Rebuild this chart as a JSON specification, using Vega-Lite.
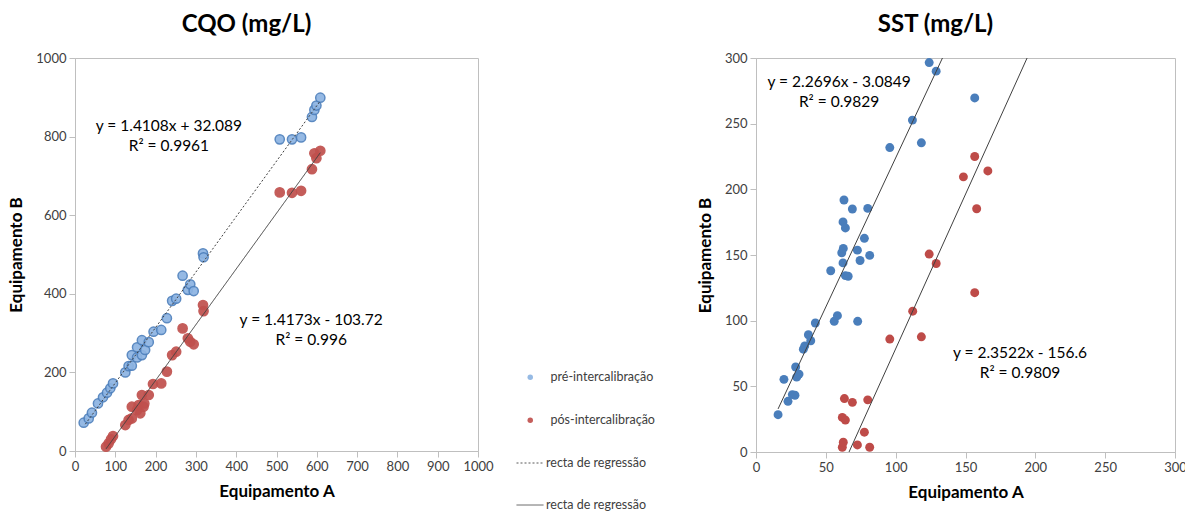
{
  "$schema": "https://vega.github.io/schema/vega-lite/v6.json",
  "background": "white",
  "padding": {"left": 7, "top": 12, "right": 5, "bottom": 0},
  "config": {
    "view": {"stroke": "#BFBFBF", "strokeWidth": 1},
    "axis": {"grid": false, "domainColor": "#BFBFBF", "tickColor": "#BFBFBF", "tickSize": 6, "labelFont": "Lato", "labelFontSize": 13, "labelColor": "#404040", "labelPadding": 3, "labelOverlap": false, "labelFlush": false, "format": "d", "titleFont": "Lato", "titleFontSize": 17, "titleFontWeight": "bold", "titleColor": "#000000"},
    "title": {"font": "Lato", "fontSize": 24, "fontWeight": "bold", "color": "#000000", "frame": "group", "anchor": "middle"},
    "legend": {"labelFont": "Lato", "labelFontSize": 12.5, "labelColor": "#404040", "padding": 0}
  },
  "datasets": {
    "cqo_pts": [
      {"A": 21.6, "B": 72, "serie": "pré-intercalibração"},
      {"A": 34, "B": 83, "serie": "pré-intercalibração"},
      {"A": 42, "B": 97.5, "serie": "pré-intercalibração"},
      {"A": 57, "B": 121, "serie": "pré-intercalibração"},
      {"A": 69.5, "B": 136.6, "serie": "pré-intercalibração"},
      {"A": 79.4, "B": 148.3, "serie": "pré-intercalibração"},
      {"A": 87.6, "B": 159.5, "serie": "pré-intercalibração"},
      {"A": 94.3, "B": 172, "serie": "pré-intercalibração"},
      {"A": 124.8, "B": 200, "serie": "pré-intercalibração"},
      {"A": 133, "B": 216, "serie": "pré-intercalibração"},
      {"A": 141, "B": 217, "serie": "pré-intercalibração"},
      {"A": 141, "B": 244, "serie": "pré-intercalibração"},
      {"A": 154, "B": 238, "serie": "pré-intercalibração"},
      {"A": 154, "B": 264, "serie": "pré-intercalibração"},
      {"A": 166, "B": 282, "serie": "pré-intercalibração"},
      {"A": 166, "B": 244, "serie": "pré-intercalibração"},
      {"A": 174, "B": 257, "serie": "pré-intercalibração"},
      {"A": 183, "B": 277, "serie": "pré-intercalibração"},
      {"A": 195, "B": 303.5, "serie": "pré-intercalibração"},
      {"A": 214, "B": 308, "serie": "pré-intercalibração"},
      {"A": 228, "B": 338, "serie": "pré-intercalibração"},
      {"A": 241, "B": 382, "serie": "pré-intercalibração"},
      {"A": 251, "B": 387.5, "serie": "pré-intercalibração"},
      {"A": 267, "B": 446, "serie": "pré-intercalibração"},
      {"A": 280, "B": 410, "serie": "pré-intercalibração"},
      {"A": 286, "B": 424, "serie": "pré-intercalibração"},
      {"A": 294.5, "B": 407, "serie": "pré-intercalibração"},
      {"A": 317.6, "B": 503, "serie": "pré-intercalibração"},
      {"A": 319, "B": 493, "serie": "pré-intercalibração"},
      {"A": 508, "B": 793, "serie": "pré-intercalibração"},
      {"A": 538.5, "B": 793, "serie": "pré-intercalibração"},
      {"A": 561, "B": 798, "serie": "pré-intercalibração"},
      {"A": 588, "B": 850, "serie": "pré-intercalibração"},
      {"A": 594, "B": 868, "serie": "pré-intercalibração"},
      {"A": 599, "B": 879, "serie": "pré-intercalibração"},
      {"A": 608.7, "B": 899, "serie": "pré-intercalibração"},
      {"A": 77, "B": 11, "serie": "pós-intercalibração"},
      {"A": 83.6, "B": 19.5, "serie": "pós-intercalibração"},
      {"A": 89.3, "B": 29.7, "serie": "pós-intercalibração"},
      {"A": 94.3, "B": 38, "serie": "pós-intercalibração"},
      {"A": 124.8, "B": 66, "serie": "pós-intercalibração"},
      {"A": 133, "B": 79, "serie": "pós-intercalibração"},
      {"A": 141, "B": 83, "serie": "pós-intercalibração"},
      {"A": 141, "B": 112.7, "serie": "pós-intercalibração"},
      {"A": 154, "B": 104, "serie": "pós-intercalibração"},
      {"A": 158, "B": 117, "serie": "pós-intercalibração"},
      {"A": 162, "B": 96, "serie": "pós-intercalibração"},
      {"A": 166, "B": 142.5, "serie": "pós-intercalibração"},
      {"A": 170, "B": 112.7, "serie": "pós-intercalibração"},
      {"A": 172, "B": 121, "serie": "pós-intercalibração"},
      {"A": 183, "B": 142.5, "serie": "pós-intercalibração"},
      {"A": 193.5, "B": 170.5, "serie": "pós-intercalibração"},
      {"A": 214, "B": 172, "serie": "pós-intercalibração"},
      {"A": 228, "B": 202, "serie": "pós-intercalibração"},
      {"A": 241, "B": 244, "serie": "pós-intercalibração"},
      {"A": 251, "B": 252.7, "serie": "pós-intercalibração"},
      {"A": 267, "B": 312, "serie": "pós-intercalibração"},
      {"A": 280, "B": 286.7, "serie": "pós-intercalibração"},
      {"A": 286, "B": 278, "serie": "pós-intercalibração"},
      {"A": 294.5, "B": 271.5, "serie": "pós-intercalibração"},
      {"A": 317.6, "B": 371.5, "serie": "pós-intercalibração"},
      {"A": 319, "B": 356, "serie": "pós-intercalibração"},
      {"A": 508, "B": 658, "serie": "pós-intercalibração"},
      {"A": 538.5, "B": 657, "serie": "pós-intercalibração"},
      {"A": 561, "B": 662, "serie": "pós-intercalibração"},
      {"A": 588, "B": 717, "serie": "pós-intercalibração"},
      {"A": 594, "B": 757.5, "serie": "pós-intercalibração"},
      {"A": 599, "B": 745, "serie": "pós-intercalibração"},
      {"A": 608.7, "B": 764, "serie": "pós-intercalibração"}
    ],
    "cqo_lines": [
      {"A": 25.6, "B": 68.2, "recta": "pré"},
      {"A": 608.7, "B": 890.8, "recta": "pré"},
      {"A": 77, "B": 5.4, "recta": "pós"},
      {"A": 608.7, "B": 759.0, "recta": "pós"}
    ],
    "sst_pts": [
      {"A": 15.8, "B": 28.4, "serie": "pré-intercalibração"},
      {"A": 20, "B": 55.3, "serie": "pré-intercalibração"},
      {"A": 22.9, "B": 38.6, "serie": "pré-intercalibração"},
      {"A": 26, "B": 43.7, "serie": "pré-intercalibração"},
      {"A": 27.9, "B": 43.2, "serie": "pré-intercalibração"},
      {"A": 28.4, "B": 64.7, "serie": "pré-intercalibração"},
      {"A": 29.1, "B": 57, "serie": "pré-intercalibração"},
      {"A": 30.8, "B": 59.3, "serie": "pré-intercalibração"},
      {"A": 33.9, "B": 78.3, "serie": "pré-intercalibração"},
      {"A": 34.9, "B": 80.8, "serie": "pré-intercalibração"},
      {"A": 37.5, "B": 89.3, "serie": "pré-intercalibração"},
      {"A": 39.2, "B": 84.7, "serie": "pré-intercalibração"},
      {"A": 42.5, "B": 98.2, "serie": "pré-intercalibração"},
      {"A": 53.5, "B": 138, "serie": "pré-intercalibração"},
      {"A": 56, "B": 99.5, "serie": "pré-intercalibração"},
      {"A": 58.3, "B": 103.8, "serie": "pré-intercalibração"},
      {"A": 61.4, "B": 151.7, "serie": "pré-intercalibração"},
      {"A": 62.3, "B": 144, "serie": "pré-intercalibração"},
      {"A": 62.3, "B": 175.2, "serie": "pré-intercalibração"},
      {"A": 62.5, "B": 155, "serie": "pré-intercalibração"},
      {"A": 63, "B": 191.9, "serie": "pré-intercalibração"},
      {"A": 64, "B": 170.6, "serie": "pré-intercalibração"},
      {"A": 64, "B": 134.3, "serie": "pré-intercalibração"},
      {"A": 66, "B": 133.8, "serie": "pré-intercalibração"},
      {"A": 69, "B": 185, "serie": "pré-intercalibração"},
      {"A": 72.6, "B": 153.7, "serie": "pré-intercalibração"},
      {"A": 72.8, "B": 99.5, "serie": "pré-intercalibração"},
      {"A": 74.5, "B": 145.8, "serie": "pré-intercalibração"},
      {"A": 77.6, "B": 162.7, "serie": "pré-intercalibração"},
      {"A": 80, "B": 185.5, "serie": "pré-intercalibração"},
      {"A": 81.4, "B": 149.7, "serie": "pré-intercalibração"},
      {"A": 95.8, "B": 231.8, "serie": "pré-intercalibração"},
      {"A": 112, "B": 252.7, "serie": "pré-intercalibração"},
      {"A": 118.4, "B": 235.4, "serie": "pré-intercalibração"},
      {"A": 124, "B": 296.5, "serie": "pré-intercalibração"},
      {"A": 129, "B": 290, "serie": "pré-intercalibração"},
      {"A": 156.6, "B": 269.6, "serie": "pré-intercalibração"},
      {"A": 61.8, "B": 3.6, "serie": "pós-intercalibração"},
      {"A": 61.8, "B": 26.3, "serie": "pós-intercalibração"},
      {"A": 62.5, "B": 7.4, "serie": "pós-intercalibração"},
      {"A": 63.3, "B": 40.7, "serie": "pós-intercalibração"},
      {"A": 64, "B": 24.3, "serie": "pós-intercalibração"},
      {"A": 69, "B": 37.8, "serie": "pós-intercalibração"},
      {"A": 72.6, "B": 5.4, "serie": "pós-intercalibração"},
      {"A": 77.6, "B": 15.1, "serie": "pós-intercalibração"},
      {"A": 80, "B": 39.7, "serie": "pós-intercalibração"},
      {"A": 81.4, "B": 3.6, "serie": "pós-intercalibração"},
      {"A": 95.8, "B": 86, "serie": "pós-intercalibração"},
      {"A": 112.2, "B": 107.2, "serie": "pós-intercalibração"},
      {"A": 118.4, "B": 87.7, "serie": "pós-intercalibração"},
      {"A": 124, "B": 150.7, "serie": "pós-intercalibração"},
      {"A": 129, "B": 143.5, "serie": "pós-intercalibração"},
      {"A": 148.5, "B": 209.5, "serie": "pós-intercalibração"},
      {"A": 156.6, "B": 225, "serie": "pós-intercalibração"},
      {"A": 156.6, "B": 121.3, "serie": "pós-intercalibração"},
      {"A": 158, "B": 185.2, "serie": "pós-intercalibração"},
      {"A": 166, "B": 214, "serie": "pós-intercalibração"}
    ],
    "sst_lines": [
      {"A": 15.8, "B": 32.8, "recta": "pré"},
      {"A": 133.5, "B": 300, "recta": "pré"},
      {"A": 66.6, "B": 0, "recta": "pós"},
      {"A": 194.1, "B": 300, "recta": "pós"}
    ],
    "anotacao": [{}]
  },
  "spacing": 39,
  "resolve": {
    "scale": {"fill": "independent", "stroke": "independent", "strokeDash": "independent"},
    "legend": {"fill": "independent", "stroke": "independent", "strokeDash": "independent"}
  },
  "hconcat": [
    {
      "width": 403,
      "height": 393,
      "title": {"text": "CQO (mg/L)", "offset": 15, "dx": -30},
      "layer": [
        {
          "data": {"name": "cqo_pts"},
          "mark": {"type": "circle", "size": 85, "strokeWidth": 1.5, "opacity": 0.92},
          "encoding": {
            "x": {"field": "A", "type": "quantitative", "scale": {"domain": [0, 1000], "nice": false}, "axis": {"title": "Equipamento A", "values": [0, 100, 200, 300, 400, 500, 600, 700, 800, 900, 1000], "titlePadding": 10}},
            "y": {"field": "B", "type": "quantitative", "scale": {"domain": [0, 1000], "nice": false}, "axis": {"title": "Equipamento B", "values": [0, 100, 200, 300, 400, 500, 600, 700, 800, 900, 1000], "titlePadding": 10}},
            "fill": {"field": "serie", "type": "nominal", "scale": {"domain": ["pré-intercalibração", "pós-intercalibração"], "range": ["#8DB4E2", "#C0504D"]},
              "legend": {"orient": "none", "legendX": 449, "legendY": 313, "title": null, "symbolType": "circle", "symbolSize": 30, "symbolStrokeWidth": 0, "rowPadding": 30, "labelOffset": 14}},
            "stroke": {"field": "serie", "type": "nominal", "scale": {"domain": ["pré-intercalibração", "pós-intercalibração"], "range": ["#4F81BD", "#C0504D"]}, "legend": null}
          }
        },
        {
          "data": {"name": "cqo_lines"},
          "mark": {"type": "line", "color": "#404040", "strokeWidth": 1},
          "encoding": {
            "x": {"field": "A", "type": "quantitative"},
            "y": {"field": "B", "type": "quantitative"},
            "strokeDash": {"field": "recta", "type": "nominal", "scale": {"domain": ["pré", "pós"], "range": [[2, 2], [1, 0]]},
              "legend": {"orient": "none", "legendX": 441, "legendY": 391, "title": null, "labelExpr": "'recta de regressão'", "symbolType": "stroke", "symbolSize": 729, "symbolStrokeColor": "#595959", "symbolStrokeWidth": 1, "rowPadding": 21, "labelOffset": 2}}
          }
        },
        {
          "data": {"name": "anotacao"},
          "mark": {"type": "text", "font": "Lato", "fontSize": 15.5, "color": "#000000", "align": "center", "baseline": "middle", "lineHeight": 20},
          "encoding": {
            "x": {"datum": 233},
            "y": {"datum": 828},
            "text": {"value": ["y = 1.4108x + 32.089", "R² = 0.9961"]}
          }
        },
        {
          "data": {"name": "anotacao"},
          "mark": {"type": "text", "font": "Lato", "fontSize": 15.5, "color": "#000000", "align": "center", "baseline": "middle", "lineHeight": 20},
          "encoding": {
            "x": {"datum": 586},
            "y": {"datum": 333},
            "text": {"value": ["y = 1.4173x - 103.72", "R² = 0.996"]}
          }
        }
      ]
    },
    {
      "width": 419,
      "height": 394,
      "title": {"text": "SST (mg/L)", "offset": 15, "dx": -30},
      "layer": [
        {
          "data": {"name": "sst_pts"},
          "mark": {"type": "circle", "size": 80, "opacity": 1},
          "encoding": {
            "x": {"field": "A", "type": "quantitative", "scale": {"domain": [0, 300], "nice": false}, "axis": {"title": "Equipamento A", "values": [0, 50, 100, 150, 200, 250, 300], "titlePadding": 10}},
            "y": {"field": "B", "type": "quantitative", "scale": {"domain": [0, 300], "nice": false}, "axis": {"title": "Equipamento B", "values": [0, 50, 100, 150, 200, 250, 300], "titlePadding": 10}},
            "fill": {"field": "serie", "type": "nominal", "scale": {"domain": ["pré-intercalibração", "pós-intercalibração"], "range": ["#4A7EBB", "#BE4B48"]}, "legend": null}
          }
        },
        {
          "data": {"name": "sst_lines"},
          "mark": {"type": "line", "color": "#404040", "strokeWidth": 1},
          "encoding": {
            "x": {"field": "A", "type": "quantitative"},
            "y": {"field": "B", "type": "quantitative"},
            "detail": {"field": "recta", "type": "nominal"}
          }
        },
        {
          "data": {"name": "anotacao"},
          "mark": {"type": "text", "font": "Lato", "fontSize": 15.5, "color": "#000000", "align": "center", "baseline": "middle", "lineHeight": 20},
          "encoding": {
            "x": {"datum": 59.5},
            "y": {"datum": 281.5},
            "text": {"value": ["y = 2.2696x - 3.0849", "R² = 0.9829"]}
          }
        },
        {
          "data": {"name": "anotacao"},
          "mark": {"type": "text", "font": "Lato", "fontSize": 15.5, "color": "#000000", "align": "center", "baseline": "middle", "lineHeight": 20},
          "encoding": {
            "x": {"datum": 189},
            "y": {"datum": 75.5},
            "text": {"value": ["y = 2.3522x - 156.6", "R² = 0.9809"]}
          }
        }
      ]
    }
  ]
}
